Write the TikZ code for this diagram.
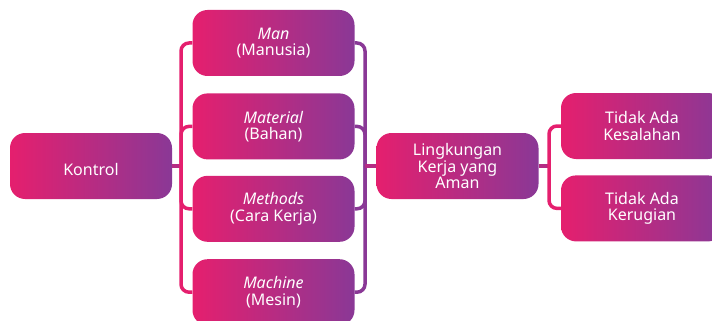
\documentclass[tikz,border=0pt]{standalone}
\usepackage{fontspec}
\setmainfont{Noto Sans}
\usepackage{xcolor}
\usepackage{tikz}
\usetikzlibrary{positioning}
\definecolor{pinkA}{HTML}{E51F6E}
\definecolor{purpleA}{HTML}{8A3896}
\definecolor{midA}{HTML}{B52C84}
\tikzstyle{box} = [rectangle, rounded corners=15pt, minimum width=162pt, minimum height=66pt, text centered, align=center, left color=pinkA, right color=purpleA, text=white, font=\fontsize{16}{16.2}\selectfont, inner sep=0pt, execute at begin node={\rule{0pt}{19pt}}]
\tikzstyle{pinkline} = [draw=pinkA, line width=3.5pt, rounded corners=8pt]
\tikzstyle{purpleline} = [draw=purpleA, line width=3.5pt, rounded corners=8pt]
\tikzstyle{midline} = [draw=midA, line width=3.5pt]

\begin{document}
\begin{tikzpicture}[x=1pt, y=-1pt]
		\clip (0,0) rectangle (712,321);
		\node (Man)[box] at (273.5,43) {\textit{Man}\\(Manusia)};
		\node (Material)[box, below = 17pt of Man]{\textit{Material}\\(Bahan)};
		\node (Methods)[box, below = 16pt of Material]{\textit{Methods}\\(Cara Kerja)};
		\node (Machine)[box, below = 17pt of Methods]{\textit{Machine}\\(Mesin)};
		\node (Kontrol)[box] at (91,166) {Kontrol};
		\node (Lingkungan)[box] at (457.5,166) {Lingkungan\\Kerja yang\\Aman};
		\node (Kesalahan)[box] at (642,126) {Tidak Ada\\Kesalahan};
		\node (Kerugian)[box, below = 16pt of Kesalahan]{Tidak Ada\\Kerugian};
		\coordinate (left join) at (181,166);
		\coordinate (right join) at (365,166);
		\coordinate (out join) at (549,166);
		\draw [midline] (Kontrol) -- (left join);
		\foreach \n in {Man, Material, Methods, Machine}
			\draw [pinkline] (left join) |- (\n.west);
		\foreach \n in {Man, Material, Methods, Machine}
			\draw [purpleline] (right join) |- (\n.east);
		\draw [midline] (right join) -- (Lingkungan);
		\draw [midline] (Lingkungan) -- (out join);
		\draw [pinkline] (out join) |- (Kesalahan.west);
		\draw [pinkline] (out join) |- (Kerugian.west);
	\end{tikzpicture}
\end{document}
